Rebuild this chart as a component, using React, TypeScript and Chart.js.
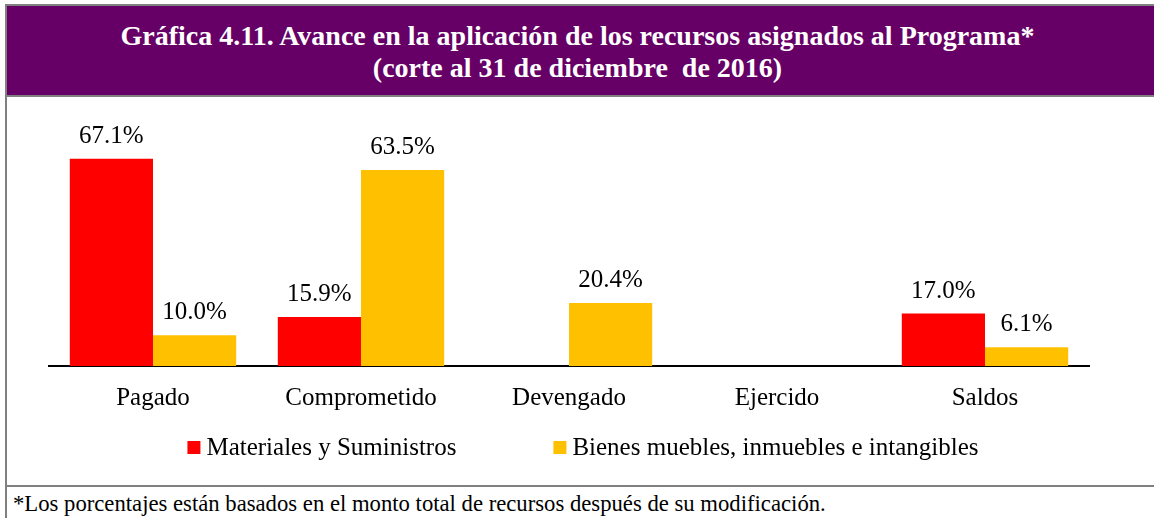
import React, { useEffect, useRef } from "react";
import { Chart, registerables } from "chart.js";

Chart.register(...registerables);

const categories = ["Pagado", "Comprometido", "Devengado", "Ejercido", "Saldos"];
const seriesNames = ["Materiales y Suministros", "Bienes muebles, inmuebles e intangibles"];
const materiales: (number | null)[] = [67.1, 15.9, null, null, 17.0];
const bienes: (number | null)[] = [10.0, 63.5, 20.4, null, 6.1];
const seriesColors = ["#FF0000", "#FFC000"];
const titleLines = [
  "Gráfica 4.11. Avance en la aplicación de los recursos asignados al Programa*",
  "(corte al 31 de diciembre  de 2016)",
];
const footnote =
  "*Los porcentajes están basados en el monto total de recursos después de su modificación.";

const FONT = "'Liberation Serif', 'Times New Roman', serif";
const GRAY = "#808080";
const PURPLE = "#660066";

const dataLabelPlugin = {
  id: "dataLabels",
  afterDatasetsDraw(chart: any) {
    const ctx = chart.ctx;
    ctx.save();
    ctx.font = `25px ${FONT}`;
    ctx.fillStyle = "#000";
    ctx.textAlign = "center";
    ctx.textBaseline = "alphabetic";
    chart.data.datasets.forEach((ds: any, i: number) => {
      const meta = chart.getDatasetMeta(i);
      meta.data.forEach((el: any, j: number) => {
        const v = ds.data[j];
        if (v === null || v === undefined) return;
        ctx.fillText(`${Number(v).toFixed(1)}%`, el.x, el.y - 16);
      });
    });
    ctx.restore();
  },
};

const legendPlugin = {
  id: "customLegend",
  afterDraw(chart: any) {
    const ctx = chart.ctx;
    ctx.save();
    ctx.font = `25px ${FONT}`;
    const box = 13;
    const gapText = 6;
    const gapItems = 97;
    const items = chart.data.datasets.map((ds: any) => ({
      label: ds.label,
      color: ds.backgroundColor,
      w: ctx.measureText(ds.label).width,
    }));
    const total =
      items.reduce((s: number, it: any) => s + box + gapText + it.w, 0) +
      gapItems * (items.length - 1);
    const centerX = (chart.chartArea.left + chart.chartArea.right) / 2 + 14;
    let x = centerX - total / 2;
    const baseY = chart.chartArea.bottom + 89;
    items.forEach((it: any) => {
      ctx.fillStyle = it.color;
      ctx.fillRect(x, baseY - 14, box, box);
      ctx.fillStyle = "#000";
      ctx.textAlign = "left";
      ctx.textBaseline = "alphabetic";
      ctx.fillText(it.label, x + box + gapText, baseY);
      x += box + gapText + it.w + gapItems;
    });
    ctx.restore();
  },
};

function BarChart() {
  const ref = useRef<HTMLCanvasElement | null>(null);
  useEffect(() => {
    if (!ref.current) return;
    const chart = new Chart(ref.current, {
      type: "bar",
      data: {
        labels: categories,
        datasets: [
          {
            label: seriesNames[0],
            data: materiales,
            backgroundColor: seriesColors[0],
            borderWidth: 0,
          },
          {
            label: seriesNames[1],
            data: bienes,
            backgroundColor: seriesColors[1],
            borderWidth: 0,
          },
        ],
      } as any,
      options: {
        animation: false,
        responsive: false,
        maintainAspectRatio: false,
        devicePixelRatio: 1,
        layout: { padding: { top: 22, left: 49, right: 65, bottom: 69 } },
        datasets: { bar: { categoryPercentage: 0.8, barPercentage: 1.0 } },
        plugins: {
          legend: { display: false },
          tooltip: { enabled: false },
          title: { display: false },
        },
        scales: {
          x: {
            grid: { display: false, drawTicks: false },
            border: { display: true, color: "#000", width: 2 },
            ticks: {
              color: "#000",
              font: { family: FONT, size: 25 },
              padding: 17,
              maxRotation: 0,
            },
            afterFit: (s: any) => {
              s.height = 50;
            },
          },
          y: { display: false, min: 0, max: 80 },
        },
      } as any,
      plugins: [dataLabelPlugin, legendPlugin],
    });
    return () => chart.destroy();
  }, []);
  return (
    <canvas
      ref={ref}
      width={1154}
      height={388}
      style={{ width: 1154, height: 388, display: "block" }}
    />
  );
}

export default function App() {
  return (
    <div
      style={{
        position: "fixed",
        left: 0,
        top: 0,
        width: 1154,
        height: 518,
        background: "#fff",
        overflow: "hidden",
      }}
    >
      <div style={{ position: "absolute", left: 0, top: 97, width: 1154, height: 388 }}>
        <BarChart />
      </div>
      <div
        style={{
          position: "absolute",
          left: 7,
          top: 6,
          right: 0,
          height: 89,
          background: PURPLE,
        }}
      >
        <div
          style={{
            position: "absolute",
            left: 0,
            right: 0,
            top: 14,
            textAlign: "center",
            color: "#fff",
            fontFamily: FONT,
            fontWeight: "bold",
            fontSize: 28,
            lineHeight: "32px",
            whiteSpace: "pre",
            paddingRight: 6,
          }}
        >
          {titleLines.map((l, i) => (
            <div key={i}>{l}</div>
          ))}
        </div>
      </div>
      <div style={{ position: "absolute", left: 5, top: 4, right: 0, height: 2, background: GRAY }} />
      <div style={{ position: "absolute", left: 5, top: 4, width: 2, bottom: 0, background: GRAY }} />
      <div style={{ position: "absolute", left: 5, top: 95, right: 0, height: 2, background: GRAY }} />
      <div style={{ position: "absolute", left: 5, top: 485, right: 0, height: 2, background: GRAY }} />
      <div
        style={{
          position: "absolute",
          left: 13,
          top: 492,
          fontFamily: FONT,
          fontSize: 22.7,
          lineHeight: "24px",
          color: "#000",
          whiteSpace: "nowrap",
        }}
      >
        {footnote}
      </div>
    </div>
  );
}
